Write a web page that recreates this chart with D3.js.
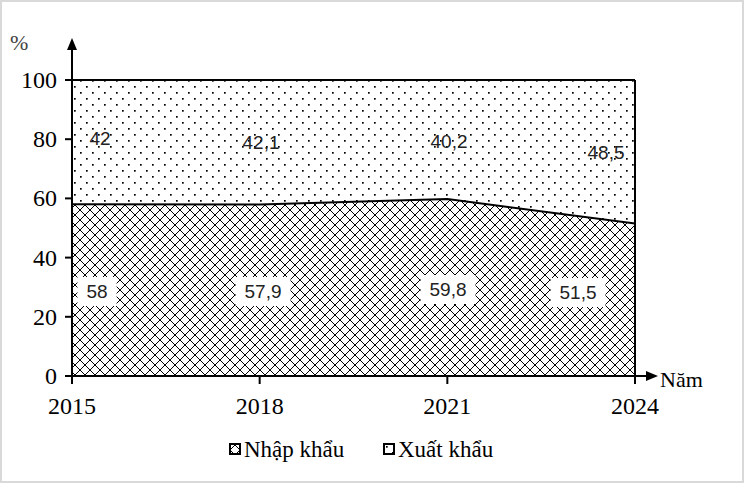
<!DOCTYPE html>
<html><head><meta charset="utf-8">
<script src="https://cdn.jsdelivr.net/npm/d3@7"></script>
<style>body{margin:0;background:#fff}svg{display:block}</style>
</head><body><div id="c"></div>
<script>
const years = ["2015","2018","2021","2024"];
const importShare = [58, 57.9, 59.8, 51.5];
const exportShare = [42, 42.1, 40.2, 48.5];
const yTicks = [0,20,40,60,80,100];
const seriesNames = ["Nhập khẩu","Xuất khẩu"];

const W=744,H=483;
const svg=d3.select("#c").append("svg").attr("width",W).attr("height",H);
svg.append("rect").attr("x",1).attr("y",1).attr("width",W-2).attr("height",H-2).attr("fill","#fff").attr("stroke","#d9d9d9").attr("stroke-width",2);

const defs=svg.append("defs");
const pd=defs.append("pattern").attr("id","dots").attr("patternUnits","userSpaceOnUse").attr("width",12).attr("height",12);
pd.append("rect").attr("width",12).attr("height",12).attr("fill","#fff");
pd.append("rect").attr("x",2).attr("y",2).attr("width",1.7).attr("height",1.7).attr("fill","#000");
pd.append("rect").attr("x",8).attr("y",8).attr("width",1.7).attr("height",1.7).attr("fill","#000");
const px=defs.append("pattern").attr("id","cross").attr("patternUnits","userSpaceOnUse").attr("width",10).attr("height",10);
px.append("rect").attr("width",10).attr("height",10).attr("fill","#fff");
px.append("path").attr("d","M0,0L10,10M10,0L0,10").attr("stroke","#000").attr("stroke-width",1);

const x=d3.scalePoint().domain(years).range([72,635]);
const y=d3.scaleLinear().domain([0,100]).range([376,80]);

const data=years.map((yr,i)=>({yr,imp:importShare[i],exp:exportShare[i]}));
svg.append("path").datum(data).attr("fill","url(#dots)")
  .attr("d",d3.area().x(d=>x(d.yr)).y0(d=>y(d.imp)).y1(d=>y(d.imp+d.exp)));
svg.append("path").datum(data).attr("fill","url(#cross)")
  .attr("d",d3.area().x(d=>x(d.yr)).y0(y(0)).y1(d=>y(d.imp)));
svg.append("path").datum(data).attr("fill","none").attr("stroke","#000").attr("stroke-width",2)
  .attr("d",d3.line().x(d=>x(d.yr)).y(d=>y(d.imp)));
svg.append("line").attr("x1",66).attr("x2",635).attr("y1",y(100)).attr("y2",y(100)).attr("stroke","#000").attr("stroke-width",2);
svg.append("line").attr("x1",635).attr("x2",635).attr("y1",y(100)).attr("y2",y(0)).attr("stroke","#000").attr("stroke-width",2);

svg.append("line").attr("x1",72).attr("x2",72).attr("y1",y(0)+8).attr("y2",46).attr("stroke","#000").attr("stroke-width",2);
svg.append("path").attr("d","M72,38L67,50L77,50Z").attr("fill","#000");
svg.append("line").attr("x1",66).attr("x2",652).attr("y1",y(0)).attr("y2",y(0)).attr("stroke","#000").attr("stroke-width",2);
svg.append("path").attr("d","M658,376L646,371L646,381Z").attr("fill","#000");

const serif="'Liberation Serif','Times New Roman',serif";
const sans="'Liberation Sans',Arial,sans-serif";
yTicks.forEach(t=>{
  svg.append("line").attr("x1",65).attr("x2",72).attr("y1",y(t)).attr("y2",y(t)).attr("stroke","#000").attr("stroke-width",2);
  svg.append("text").attr("x",57).attr("y",y(t)+8).attr("text-anchor","end").attr("font-family",serif).attr("font-size",24).text(t);
});
years.forEach(yr=>{
  svg.append("line").attr("x1",x(yr)).attr("x2",x(yr)).attr("y1",y(0)).attr("y2",y(0)+8).attr("stroke","#000").attr("stroke-width",2);
  svg.append("text").attr("x",x(yr)).attr("y",414).attr("text-anchor","middle").attr("font-family",serif).attr("font-size",24).text(yr);
});
svg.append("text").attr("x",10).attr("y",50).attr("font-family",serif).attr("font-size",22).attr("fill","#444").text("%");
svg.append("text").attr("x",660).attr("y",387).attr("font-family",serif).attr("font-size",22).text("Năm");

const fmt=v=>String(v).replace(".",",");
const expPos=[[100,145],[261,149],[449,148],[606,159]];
const impPos=[[97,298],[263,298],[448,296],[578,299]];
data.forEach((d,i)=>{
  svg.append("text").attr("x",expPos[i][0]).attr("y",expPos[i][1]).attr("text-anchor","middle").attr("font-family",sans).attr("font-size",19).attr("fill","#222").text(fmt(d.exp));
  const t=svg.append("text").attr("x",impPos[i][0]).attr("y",impPos[i][1]).attr("text-anchor","middle").attr("font-family",sans).attr("font-size",19).attr("fill","#222").text(fmt(d.imp));
  const b=t.node().getBBox();
  svg.insert("rect",()=>t.node()).attr("x",b.x-9).attr("y",b.y-4).attr("width",b.width+18).attr("height",b.height+8).attr("fill","#fff");
});

const leg=[{n:seriesNames[0],p:"url(#cross)",x:230},{n:seriesNames[1],p:"url(#dots)",x:384}];
leg.forEach(l=>{
  svg.append("rect").attr("x",l.x).attr("y",444).attr("width",10).attr("height",10).attr("fill",l.p).attr("stroke","#000").attr("stroke-width",2);
  svg.append("text").attr("x",l.x+14).attr("y",457).attr("font-family",serif).attr("font-size",23).text(l.n);
});
</script></body></html>
